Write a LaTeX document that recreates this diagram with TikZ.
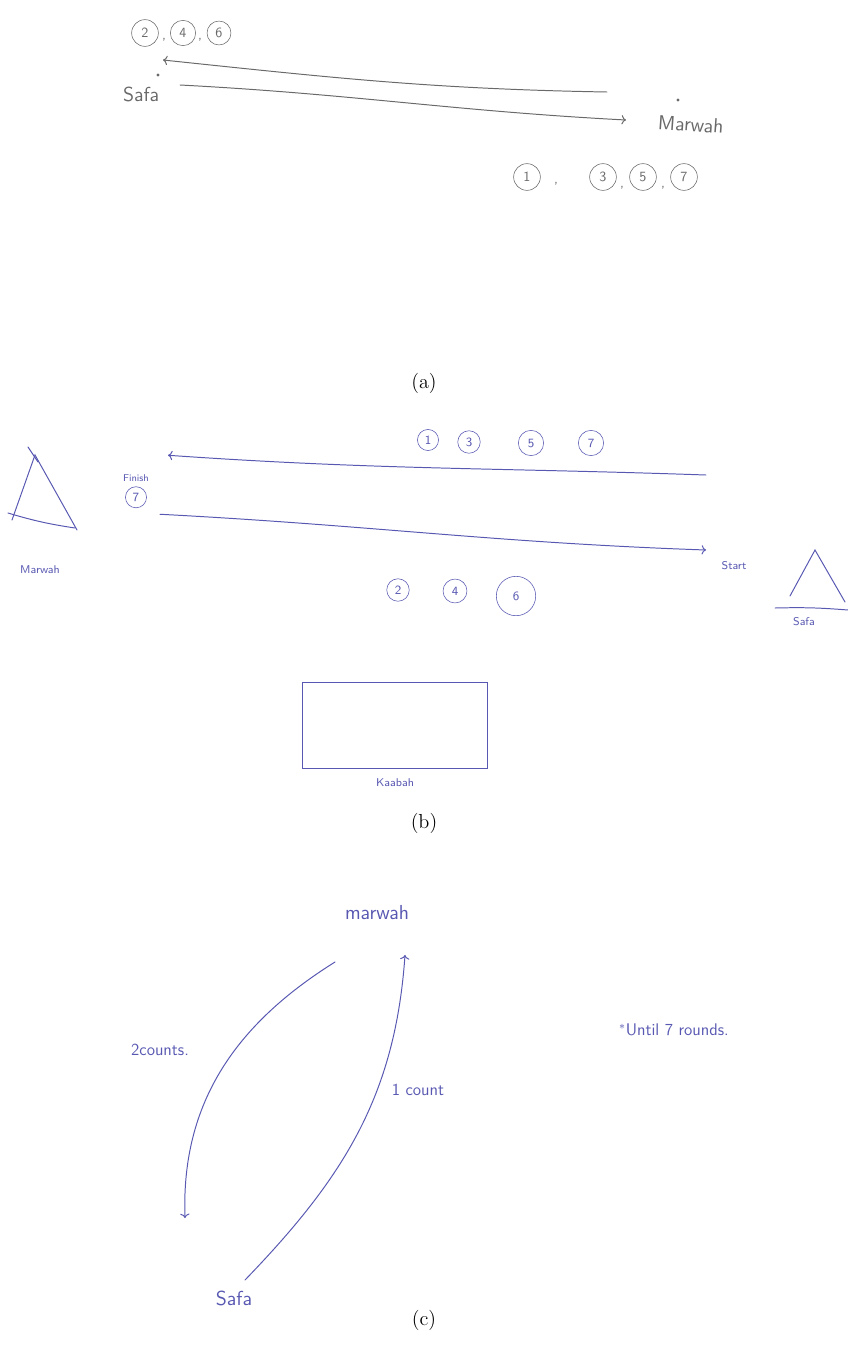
\documentclass[tikz,border=0pt]{standalone}
\usepackage{tikz}
\usetikzlibrary{arrows.meta, positioning, calc}
\definecolor{pencil}{RGB}{105,105,105}
\definecolor{inkblue}{RGB}{88,88,178}

\begin{document}
\begin{tikzpicture}[x=0.025cm, y=-0.025cm, line cap=round,
  every node/.style={font=\sffamily},
  num/.style={draw, circle, inner sep=0.5pt, minimum size=15pt, font=\sffamily\small},
  dotmark/.style={circle, fill, inner sep=0.8pt},
  sketch/.style={line width=0.7pt},
  caption/.style={font=\rmfamily\Large, text=black}]
\useasboundingbox (0,0) rectangle (848,1356);
% (a) Safa and Marwah
\begin{scope}[pencil, text=pencil]
\node[dotmark] (sdot) at (158,75) {};
\node[font=\sffamily\Large, below=4pt of sdot, xshift=-12pt] (safaA) {Safa};
\node[dotmark] (mdot) at (678,100) {};
\node[font=\sffamily\Large, rotate=-4, below right=6pt and -18pt of mdot] (marwahA) {Marwah};
\node[num, minimum size=19pt, font=\sffamily\normalsize] (a2) at (145,33) {2};
\node[num, minimum size=18pt, font=\sffamily\normalsize] (a4) at (183,33) {4};
\node[num, minimum size=17pt, font=\sffamily\normalsize] (a6) at (219,33) {6};
\node at (164,40) {,};
\node at (200,40) {,};
\foreach \n/\x in {1/527, 3/603, 5/643, 7/684}
  \node[num, minimum size=19pt, font=\sffamily\normalsize] (a\n) at (\x,177) {\n};
\node at (556,184) {,};
\node at (622,188) {,};
\node at (663,188) {,};
\draw[sketch, ->] ($(mdot)+(-71,-8)$) to[out=179, in=-6] ($(sdot)+(5,-15)$);
\draw[sketch, ->] ($(sdot)+(22,10)$) to[out=-3, in=177] ($(mdot)+(-52,20)$);
\end{scope}
\node[caption] (capA) at (424,383) {(a)};
% (b) Walking between the hills
\begin{scope}[inkblue, text=inkblue]
\node[num, minimum size=15pt] (b1) at (428,440) {1};
\node[num, minimum size=16pt] (b3) at (469,442) {3};
\node[num, minimum size=18pt] (b5) at (531,443) {5};
\node[num, minimum size=18pt] (b7) at (591,443) {7};
\node[num, minimum size=16pt] (b2) at (398,590) {2};
\node[num, minimum size=17pt] (b4) at (455,591) {4};
\node[num, minimum size=28pt] (b6) at (516,596) {6};
\node[font=\sffamily\scriptsize] (finish) at (136,478) {Finish};
\node[num, minimum size=15pt, below=0pt of finish] (fin7) {7};
\node[font=\sffamily\footnotesize] (start) at (734,566) {Start};
% left hill
\coordinate (mtop) at (35,455);
\draw[sketch] (12,520) -- (mtop) -- (77,530);
\draw[sketch] (28,447) -- (38,462);
\draw[sketch] (8,513) to[bend right=4] (75,528);
\node[font=\sffamily\footnotesize] (marwahB) at (40,570) {Marwah};
% right hill
\coordinate (stop) at (815,550);
\draw[sketch] (790,596) -- (stop) -- (845,602);
\draw[sketch] (775,608) to[bend left=3] (848,610);
\node[font=\sffamily\footnotesize] (safaB) at (804,622) {Safa};
% the two walks
\draw[sketch, ->] ($(start)+(-28,-91)$) to[out=178, in=-4] ($(fin7)+(32,-42)$);
\draw[sketch, ->] ($(fin7)+(24,17)$) to[out=-3, in=178] ($(start)+(-28,-16)$);
% Kaabah
\node[draw, sketch, minimum width=4.6cm, minimum height=2.15cm] (kaabah) at (395,725) {};
\node[font=\sffamily\footnotesize, below=4pt of kaabah] (kaabahlbl) {Kaabah};
\end{scope}
\node[caption] (capB) at (424,823) {(b)};
% (c) Counting the rounds
\begin{scope}[inkblue, text=inkblue]
\node[font=\sffamily\Large] (marwahC) at (377,913) {marwah};
\node[font=\sffamily\Large] (safaC) at (234,1298) {Safa};
\coordinate (lefttop) at (335,962);
\coordinate (leftend) at (185,1218);
\coordinate (rightfoot) at (245,1280);
\coordinate (righttop) at (405,955);
\draw[sketch, ->] (lefttop) to[out=212, in=92] (leftend);
\draw[sketch, ->] (rightfoot) to[out=46, in=-94] (righttop);
\node[font=\sffamily\large] (twocounts) at (160,1050) {2counts.};
\node[font=\sffamily\large] (onecount) at (418,1090) {1 count};
\node[font=\sffamily\large] (rounds) at (674,1030) {${}^{*}$Until 7 rounds.};
\end{scope}
\node[caption] (capC) at (424,1320) {(c)};
\end{tikzpicture}
\end{document}
